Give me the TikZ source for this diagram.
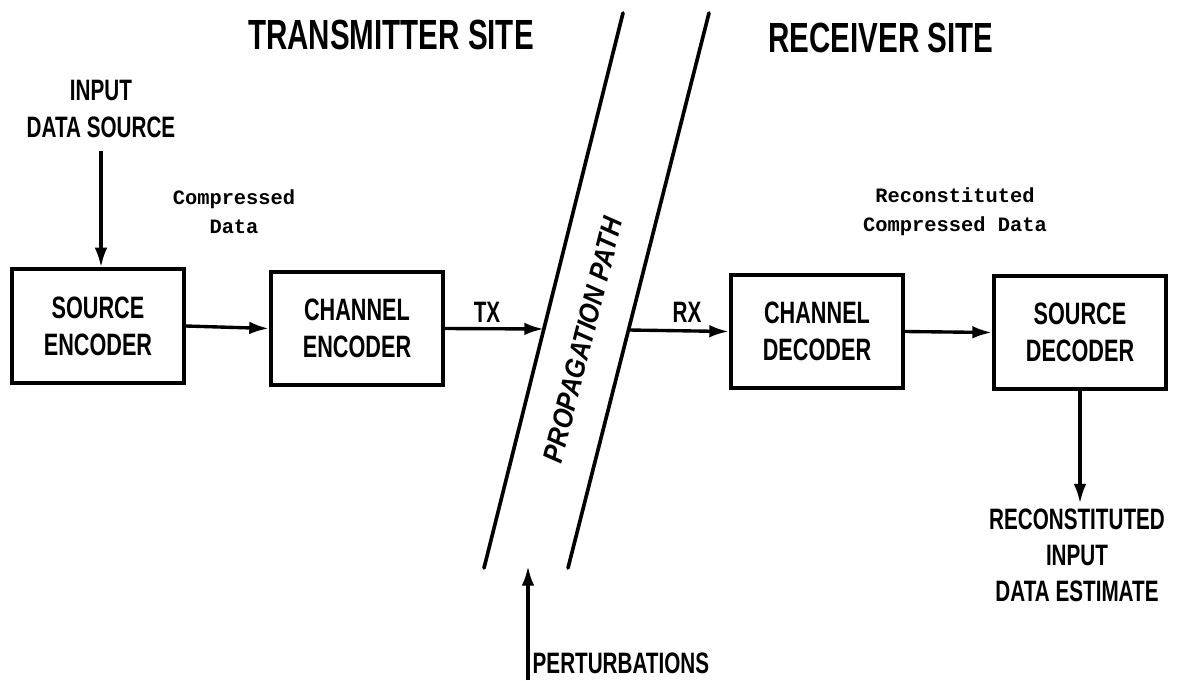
\documentclass[tikz,border=0pt]{standalone}
\usepackage{fontspec}
\setsansfont{Liberation Sans}[FakeStretch=0.70]
\setmonofont{Liberation Mono}
\newfontfamily\pathfont{Liberation Sans}[FakeStretch=0.88]
\usetikzlibrary{arrows.meta}

\begin{document}
\begin{tikzpicture}[x=0.025cm, y=-0.025cm,
    blockbox/.style={draw, line width=2.8pt, minimum width=4.3cm, minimum height=2.83cm,
        align=center, font=\sffamily\bfseries\fontsize{22}{26.5}\selectfont},
    caps/.style={font=\sffamily\bfseries\fontsize{21}{26.5}\selectfont, align=center},
    note/.style={font=\ttfamily\bfseries\fontsize{14.5}{20.5}\selectfont, align=center},
    arr/.style={line width=2.4pt, -{Latex[length=14pt,width=9pt]}}]

    % Frame
    \useasboundingbox (0,0) rectangle (1178,680);

    % Site titles
    \node[font=\sffamily\bfseries\fontsize{30}{36}\selectfont] (txsite) at (391,35) {TRANSMITTER SITE};
    \node[font=\sffamily\bfseries\fontsize{30}{36}\selectfont] (rxsite) at (881,38) {RECEIVER SITE};

    % Blocks
    \node[blockbox] (srcenc) at (98,326) {SOURCE\\ENCODER};
    \node[blockbox] (chenc) at (357,328.5) {CHANNEL\\ENCODER};
    \node[blockbox] (chdec) at (817,331.5) {CHANNEL\\DECODER};
    \node[blockbox] (srcdec) at (1080,332.5) {SOURCE\\DECODER};

    % Propagation band
    \coordinate (bandAtop) at (623,13);
    \coordinate (bandAbot) at (484,568);
    \coordinate (bandBtop) at (709,13);
    \coordinate (bandBbot) at (568,568);
    \draw[line width=2.6pt, line cap=round] (bandAtop) -- (bandAbot);
    \draw[line width=2.6pt, line cap=round] (bandBtop) -- (bandBbot);
    \node[rotate=75.9, font=\pathfont\bfseries\itshape\fontsize{20}{24}\selectfont] (proppath) at (583,340) {PROPAGATION PATH};

    % Input side
    \node[caps] (insrc) at (101,109) {INPUT\\DATA SOURCE};
    \draw[arr, shorten <=6pt] (insrc.south) -- (insrc.south |- srcenc.north);
    \node[note] (cmpdata) at (234,212) {Compressed\\Data};
    \draw[arr] (srcenc.east) -- (chenc.west);

    % Transmit / receive
    \coordinate (txtip) at (544,329);
    \coordinate (rxtail) at (629,330);
    \node[caps] (txlbl) at (487,312) {TX};
    \node[caps] (rxlbl) at (687,312) {RX};
    \draw[arr] (chenc.east) -- (txtip);
    \draw[arr] (rxtail) -- (chdec.west);

    % Output side
    \node[note] (recdata) at (955,212) {Reconstituted\\Compressed Data};
    \draw[arr] (chdec.east) -- (srcdec.west);
    \node[caps, font=\sffamily\bfseries\fontsize{21}{25.6}\selectfont] (recout) at (1077,555) {RECONSTITUTED\\INPUT\\DATA ESTIMATE};
    \draw[arr] (srcdec.south) -- (srcdec.south |- recout.north);

    % Perturbations
    \node[caps, anchor=west, inner sep=1pt] (pert) at (531,663) {PERTURBATIONS};
    \coordinate (pertfoot) at (528,680);
    \coordinate (perttip) at (528,566);
    \draw[arr] (pertfoot) -- (perttip);
\end{tikzpicture}
\end{document}
